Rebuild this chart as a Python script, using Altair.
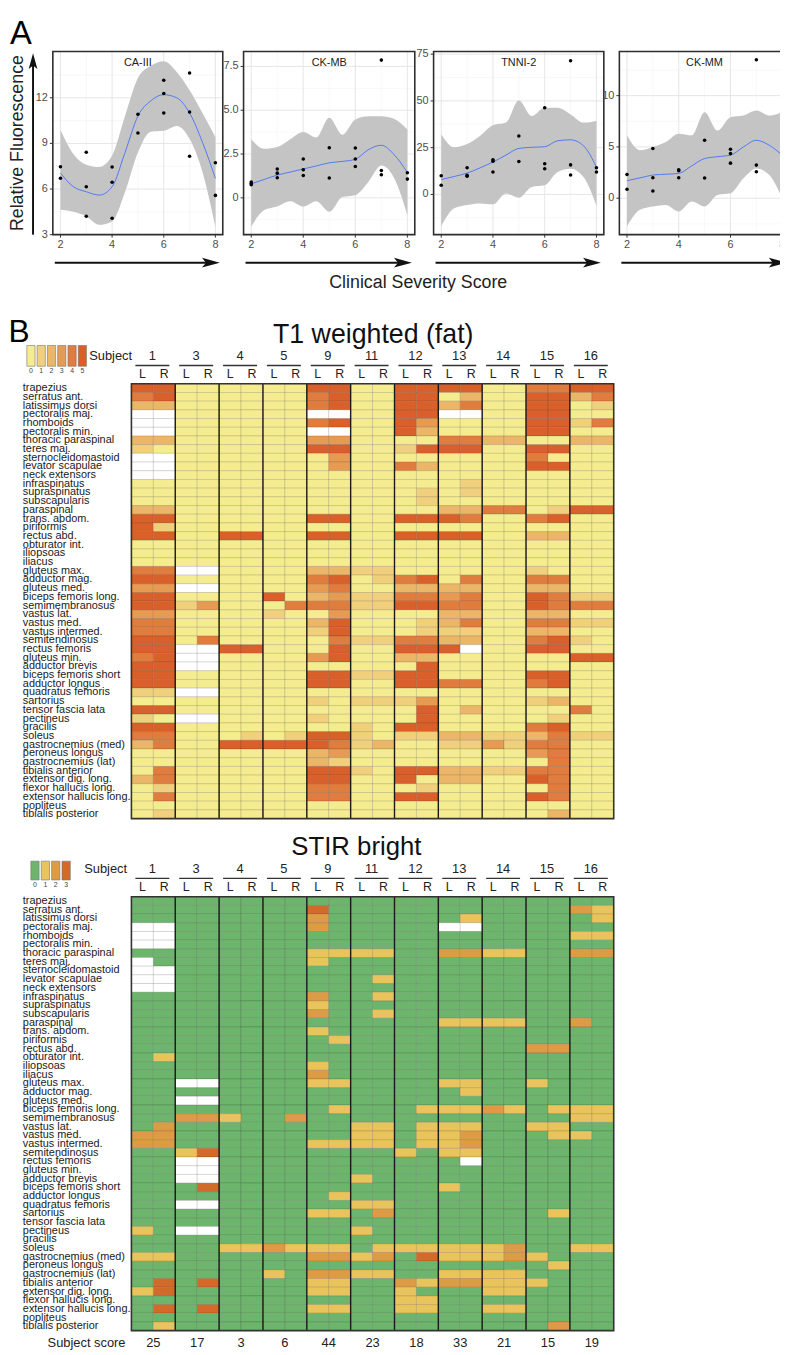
import altair as alt
import pandas as pd

FONT = "Liberation Sans"

# ---------------- Panel A: data ----------------
PANEL_NAMES = ["CA-III", "CK-MB", "TNNI-2", "CK-MM"]
X_DOMAIN = [1.705, 8.285]
X_MAJOR = [2, 4, 6, 8]
X_MINOR = [3, 5, 7]
FIT_X = [2, 2.5, 3, 3.5, 4, 4.5, 5, 5.5, 6, 6.5, 7, 7.5, 8]

CA3_X = [2, 2, 3, 3, 3, 4, 4, 4, 5, 5, 6, 6, 6, 7, 7, 7, 8, 8]
CA3_Y = [7.47, 6.71, 8.42, 6.15, 4.21, 7.45, 6.45, 4.08, 10.92, 9.68, 13.15, 12.28, 11.0, 13.63, 11.07, 8.16, 7.73, 5.58]
CA3_FIT = [7.05, 6.15, 5.82, 5.6, 6.15, 8.4, 10.8, 11.8, 12.2, 12.0, 11.0, 9.07, 6.7]
CA3_LO = [4.63, 4.5, 4.2, 3.65, 3.87, 5.8, 8.4, 9.77, 9.83, 10.15, 9.3, 7.1, 3.5]
CA3_HI = [9.9, 8.3, 7.6, 7.45, 8.2, 10.8, 13.3, 14.1, 14.4, 13.7, 12.5, 11.0, 9.4]
CA3_YDOM = [3, 15.04]
CA3_YMAJ = [3, 6, 9, 12]
CA3_YLAB = ["3", "6", "9", "12"]
CA3_YMIN = [4.5, 7.5, 10.5, 13.5]

CKMB_X = [2, 2, 2, 3, 3, 3, 4, 4, 4, 5, 5, 6, 6, 6, 7, 7, 7, 8, 8]
CKMB_Y = [0.9, 0.82, 0.75, 1.65, 1.41, 1.15, 2.22, 1.6, 1.28, 2.86, 1.13, 2.84, 2.22, 1.79, 7.86, 1.56, 1.32, 1.43, 1.07]
CKMB_FIT = [0.8, 1.05, 1.3, 1.47, 1.65, 1.82, 2.0, 2.08, 2.2, 2.75, 3.0, 2.45, 1.45]
CKMB_LO = [-1.63, -0.7, -0.5, -0.2, -0.5, -0.2, -0.8, 0.05, 0.15, 0.9, 1.84, 1.1, -1.0]
CKMB_HI = [3.35, 2.8, 2.9, 3.35, 3.76, 3.44, 4.57, 3.6, 4.47, 4.66, 4.66, 4.5, 3.9]
CKMB_YDOM = [-2.1, 8.35]
CKMB_YMAJ = [0, 2.5, 5, 7.5]
CKMB_YLAB = ["0", "2.5", "5.0", "7.5"]
CKMB_YMIN = [-1.25, 1.25, 3.75, 6.25]

TN_X = [2, 2, 3, 3, 3, 4, 4, 4, 5, 5, 6, 6, 6, 7, 7, 7, 8, 8]
TN_Y = [10.0, 4.9, 14.3, 10.2, 9.7, 18.5, 17.8, 12.0, 31.2, 17.6, 46.3, 16.4, 13.7, 71.5, 15.8, 10.4, 14.3, 12.0]
TN_FIT = [7.9, 9.6, 11.4, 14.2, 17.3, 21.0, 24.6, 25.2, 25.5, 28.7, 29.2, 26.0, 14.6]
TN_LO = [-17.0, -7.4, -5.6, -4.8, -5.3, 0.5, -1.8, 4.0, 4.9, 12.0, 13.7, 9.3, -6.0]
TN_HI = [32.2, 25.2, 26.9, 31.3, 37.0, 38.4, 50.2, 41.9, 46.3, 46.3, 42.8, 38.4, 39.3]
TN_YDOM = [-21.5, 76.4]
TN_YMAJ = [0, 25, 50, 75]
TN_YLAB = ["0", "25", "50", "75"]
TN_YMIN = [-12.5, 12.5, 37.5, 62.5]

CKMM_X = [2, 2, 3, 3, 3, 4, 4, 4, 5, 5, 6, 6, 6, 7, 7, 7, 8, 8]
CKMM_Y = [2.32, 0.87, 4.84, 2.0, 0.71, 2.77, 2.68, 2.0, 5.65, 1.97, 4.77, 4.35, 3.42, 13.5, 3.23, 2.58, 5.1, 2.0]
CKMM_FIT = [1.71, 1.98, 2.26, 2.34, 2.42, 3.15, 3.87, 4.05, 4.2, 5.0, 5.65, 5.16, 4.2]
CKMM_LO = [-2.74, -1.13, -0.8, -0.65, -1.29, -0.32, -0.8, 0.32, 0.48, 1.94, 2.9, 2.26, 0.0]
CKMM_HI = [6.13, 4.68, 5.0, 5.48, 6.29, 6.13, 8.39, 6.6, 7.9, 8.06, 8.55, 8.06, 8.4]
CKMM_YDOM = [-3.55, 14.3]
CKMM_YMAJ = [0, 5, 10]
CKMM_YLAB = ["0", "5", "10"]
CKMM_YMIN = [-2.5, 2.5, 7.5, 12.5]

# ---------------- Panel B: data ----------------
SUBJECTS = ["1", "3", "4", "5", "9", "11", "12", "13", "14", "15", "16"]
SIDES = ["L", "R"]
SUBJECT_SCORES = ["25", "17", "3", "6", "44", "23", "18", "33", "21", "15", "19"]
MUSCLES = [
    "trapezius", "serratus ant.", "latissimus dorsi", "pectoralis maj.", "rhomboids",
    "pectoralis min.", "thoracic paraspinal", "teres maj.", "sternocleidomastoid",
    "levator scapulae", "neck extensors", "infraspinatus", "supraspinatus", "subscapularis",
    "paraspinal", "trans. abdom.", "piriformis", "rectus abd.", "obturator int.", "iliopsoas",
    "iliacus", "gluteus max.", "adductor mag.", "gluteus med.", "biceps femoris long.",
    "semimembranosus", "vastus lat.", "vastus med.", "vastus intermed.", "semitendinosus",
    "rectus femoris", "gluteus min.", "adductor brevis", "biceps femoris short",
    "adductor longus", "quadratus femoris", "sartorius", "tensor fascia lata", "pectineus",
    "gracilis", "soleus", "gastrocnemius (med)", "peroneus longus", "gastrocnemius (lat)",
    "tibialis anterior", "extensor dig. long.", "flexor hallucis long.",
    "extensor hallucis long.", "popliteus", "tibialis posterior",
]
T1_LEVELS = ["0", "1", "2", "3", "4", "5"]
STIR_LEVELS = ["0", "1", "2", "3"]

# one string per muscle, two characters (L,R) per subject; "." = not scored
T1_ROWS = [
    "55 00 00 00 55 00 55 55 00 44 55",
    "45 00 00 00 45 00 55 02 00 55 24",
    "22 00 00 00 45 00 55 24 00 55 01",
    ".. 00 00 00 .. 00 55 .. 00 55 00",
    ".. 00 00 00 45 00 53 00 00 55 14",
    ".. 00 00 00 .. 00 52 00 00 55 00",
    "22 00 00 00 33 00 00 44 22 00 22",
    "10 00 00 00 55 00 15 55 00 55 00",
    ".. 00 00 00 03 00 00 00 00 40 00",
    ".. 00 00 00 03 00 42 00 00 55 00",
    ".. 00 00 00 00 00 00 00 00 00 00",
    "00 00 00 00 00 00 00 01 00 00 00",
    "00 00 00 00 00 00 01 01 00 00 00",
    "00 00 00 00 00 00 01 00 00 00 00",
    "22 00 00 00 00 00 00 22 44 01 55",
    "55 00 00 00 55 00 55 54 00 45 00",
    "51 00 00 00 00 00 00 00 00 00 00",
    "55 00 55 00 55 00 55 55 00 22 00",
    "00 00 00 00 00 00 00 00 00 00 00",
    "00 00 00 00 00 00 00 00 00 00 00",
    "00 00 00 00 00 00 00 00 00 00 00",
    "44 .. 00 00 22 11 00 00 00 10 00",
    "55 00 00 00 45 01 45 04 00 44 00",
    "33 .. 00 00 34 00 22 22 00 22 00",
    "55 00 00 50 23 11 44 34 00 54 11",
    "55 13 00 04 44 11 55 44 00 54 44",
    "33 00 00 10 03 00 00 22 00 22 00",
    "44 00 00 00 25 00 01 24 00 44 11",
    "44 00 00 00 15 00 01 11 00 22 00",
    "55 04 00 00 04 11 44 22 00 45 10",
    "55 .. 55 00 05 00 55 5. 00 55 00",
    "45 .. 00 00 35 00 22 00 00 00 55",
    "55 .. 00 00 00 00 05 00 00 00 00",
    "55 00 00 00 55 11 55 00 00 55 00",
    "55 00 00 00 55 00 55 44 00 45 00",
    "11 .. 00 00 00 00 00 00 00 00 00",
    "00 00 00 00 10 11 13 00 00 12 00",
    "55 00 00 00 00 00 05 02 00 00 40",
    "10 .. 00 00 10 00 05 00 00 01 00",
    "55 00 00 00 00 10 55 00 00 45 00",
    "44 00 01 01 55 10 11 22 11 24 11",
    "24 00 55 55 54 12 00 11 31 44 00",
    "00 00 00 00 23 00 00 00 00 34 00",
    "00 00 00 00 21 00 00 00 00 04 00",
    "04 00 00 00 55 10 55 22 11 44 00",
    "24 00 00 00 55 00 50 22 00 54 00",
    "01 00 00 00 44 00 01 00 00 04 00",
    "04 00 00 00 44 00 55 00 00 54 00",
    "00 00 00 00 00 00 00 00 00 00 00",
    "01 00 00 00 00 00 00 00 00 02 00",
]

STIR_ROWS = [
    "00 00 00 00 00 00 00 00 00 00 00",
    "00 00 00 00 30 00 00 00 00 00 21",
    "00 00 00 00 20 00 00 01 00 00 01",
    ".. 00 00 00 20 00 00 .. 00 00 00",
    ".. 00 00 00 00 00 00 00 00 00 11",
    ".. 00 00 00 00 00 00 00 00 00 00",
    "00 00 00 00 11 11 00 22 11 00 22",
    ".0 00 00 00 10 00 00 00 00 00 00",
    ".. 00 00 00 00 00 00 00 00 00 00",
    ".. 00 00 00 00 01 00 00 00 00 00",
    ".. 00 00 00 00 00 00 00 00 00 00",
    "00 00 00 00 20 01 00 00 00 00 00",
    "00 00 00 00 10 00 00 00 00 00 00",
    "00 00 00 00 20 01 00 00 00 00 00",
    "00 00 00 00 00 00 00 11 11 00 20",
    "00 00 00 00 10 00 00 00 00 00 00",
    "00 00 00 00 01 00 00 00 00 00 00",
    "00 00 00 00 00 00 00 00 00 22 00",
    "01 00 00 00 00 00 00 00 00 00 00",
    "00 00 00 00 10 00 00 00 00 00 00",
    "00 00 00 00 20 00 00 00 00 00 00",
    "00 .. 00 00 11 00 00 11 00 10 00",
    "00 00 00 00 00 00 00 01 00 00 00",
    "00 .. 00 00 00 00 00 00 00 00 00",
    "00 00 00 00 01 00 01 11 21 01 11",
    "00 22 10 02 00 00 00 00 00 00 11",
    "02 00 00 00 00 11 01 11 00 11 00",
    "22 00 00 00 00 11 01 12 00 01 10",
    "22 00 00 00 11 11 01 12 00 00 00",
    "00 13 00 00 00 00 10 11 00 00 00",
    "00 .. 00 00 00 00 00 0. 00 00 00",
    "00 .. 00 00 00 00 00 00 00 00 00",
    "00 .. 00 00 00 10 00 00 00 00 00",
    "00 03 00 00 00 00 00 10 00 00 00",
    "00 00 00 00 01 00 00 00 00 00 00",
    "00 .. 00 00 00 11 00 00 00 00 00",
    "00 00 00 00 11 02 00 00 00 01 00",
    "00 00 00 00 00 00 00 00 00 00 00",
    "10 .. 00 00 00 10 00 00 00 00 00",
    "00 00 00 00 00 00 00 00 00 00 00",
    "00 00 11 21 11 01 11 11 12 00 11",
    "11 00 00 00 22 12 03 11 12 10 00",
    "00 00 00 00 00 00 00 00 00 01 00",
    "00 00 00 10 22 11 00 11 11 00 00",
    "03 03 00 00 11 00 21 22 11 10 00",
    "13 00 00 00 11 00 10 00 11 00 00",
    "00 00 00 00 00 00 11 00 00 00 00",
    "03 03 00 00 11 00 11 00 11 00 00",
    "00 00 00 00 00 00 00 00 00 00 00",
    "01 00 00 00 00 00 00 00 00 02 00",
]

# ---------------- styles / layout ----------------
T1_COLORS = ["#F5EC90", "#F0D07D", "#EBB667", "#E69A52", "#E07C3D", "#D9602A"]
STIR_COLORS = ["#6DB46C", "#E9C35B", "#DE9B46", "#D26B2A"]
NA_COLOR = "#FFFFFF"

PANEL_XR = [[45.3, 217.0], [238.0, 411.0], [430.0, 602.0], [617.7, 789.7]]
PANEL_YR = [222.0, 37.0]
HM_XR = [124.7, 612.0]
T1_YR = [372.7, 812.0]
STIR_YR = [891.0, 1329.3]
COLW = (HM_XR[1] - HM_XR[0]) / 22.0
ARROW_R = "M-1,-0.55L1,0L-1,0.55L-0.55,0Z"
ARROW_U = "M-0.55,1L0,-1L0.55,1L0,0.55Z"

ONE = pd.DataFrame({"k": [0]})
COLS = [f"{s}{sd}" for s in SUBJECTS for sd in SIDES]


def panel(i, name, px, py, fit, lo, hi, ydom, ymaj, ylab, ymin):
    clip = i == 3
    xs = alt.Scale(domain=X_DOMAIN, range=PANEL_XR[i], nice=False, zero=False)
    ys = alt.Scale(domain=ydom, range=PANEL_YR, nice=False, zero=False)

    def X(f):
        return alt.X(f, type="quantitative", scale=xs, axis=None)

    def Y(f):
        return alt.Y(f, type="quantitative", scale=ys, axis=None)

    x0, x1 = X_DOMAIN
    y0, y1 = ydom
    xpx = (x1 - x0) / (PANEL_XR[i][1] - PANEL_XR[i][0])   # data units per pixel
    ypx = (y1 - y0) / (PANEL_YR[0] - PANEL_YR[1])
    pts = pd.DataFrame({"x": px, "y": py})
    fitdf = pd.DataFrame({"x": FIT_X, "fit": fit, "lo": lo, "hi": hi})
    xg_min = pd.DataFrame({"v": X_MINOR, "a": y0, "b": y1})
    yg_min = pd.DataFrame({"v": ymin, "a": x0, "b": x1})
    xg = pd.DataFrame({"v": X_MAJOR, "lab": [str(v) for v in X_MAJOR], "a": y0, "b": y1,
                       "t": y0 - 3 * ypx})
    yg = pd.DataFrame({"v": ymaj, "lab": ylab, "a": x0, "b": x1, "t": x0 - 3 * xpx})
    fr = pd.DataFrame({"x0": [x0], "x1": [x1], "y0": [y0], "y1": [y1],
                       "xm": [(x0 + x1) / 2], "name": [name],
                       "xa": [x0 + 2 * xpx], "xb": [x1 - 12 * xpx], "xh": [x1 - 12 * xpx]})
    return [
        alt.Chart(xg_min).mark_rule(color="#F3F3F3", strokeWidth=0.6, clip=clip).encode(
            x=X("v"), y=Y("a"), y2="b"),
        alt.Chart(yg_min).mark_rule(color="#F3F3F3", strokeWidth=0.6, clip=clip).encode(
            y=Y("v"), x=X("a"), x2="b"),
        alt.Chart(xg).mark_rule(color="#E3E3E3", strokeWidth=0.9, clip=clip).encode(
            x=X("v"), y=Y("a"), y2="b"),
        alt.Chart(yg).mark_rule(color="#E3E3E3", strokeWidth=0.9, clip=clip).encode(
            y=Y("v"), x=X("a"), x2="b"),
        alt.Chart(fitdf).mark_area(color="#C4C4C4", interpolate="monotone", clip=clip).encode(
            x=X("x"), y=Y("lo"), y2="hi"),
        alt.Chart(fitdf).mark_line(color="#3366FF", strokeWidth=0.8, interpolate="monotone",
                                   clip=clip).encode(x=X("x"), y=Y("fit")),
        alt.Chart(pts).mark_circle(color="#000000", size=13, opacity=1, clip=clip).encode(
            x=X("x"), y=Y("y")),
        alt.Chart(fr).mark_rect(fillOpacity=0, stroke="#2E2E2E", strokeWidth=1.6, clip=clip).encode(
            x=X("x0"), x2="x1", y=Y("y0"), y2="y1"),
        alt.Chart(yg).mark_rule(color="#333333", strokeWidth=1, clip=clip).encode(
            y=Y("v"), x=X("a"), x2="t"),
        alt.Chart(xg).mark_rule(color="#333333", strokeWidth=1, clip=clip).encode(
            x=X("v"), y=Y("a"), y2="t"),
        alt.Chart(yg).mark_text(align="right", baseline="middle", dx=-5, fontSize=11,
                                color="#4D4D4D", clip=clip).encode(
            x=X("a"), y=Y("v"), text="lab:N"),
        alt.Chart(xg).mark_text(align="center", baseline="top", dy=4, fontSize=11,
                                color="#4D4D4D", clip=clip).encode(
            x=X("v"), y=Y("a"), text="lab:N"),
        alt.Chart(fr).mark_text(align="center", baseline="middle", dy=12, fontSize=11,
                                color="#222222", clip=clip).encode(
            x=X("xm"), y=Y("y1"), text="name:N"),
        alt.Chart(fr).mark_rule(color="#111111", strokeWidth=2, clip=clip).encode(
            x=X("xa"), x2="xb", y=alt.value(250.3)),
        alt.Chart(fr).mark_point(shape=ARROW_R, size=324, filled=True, color="#111111",
                                 opacity=1, clip=clip).encode(
            x=X("xh"), y=alt.value(250.3)),
    ]


def cells_df(rows):
    recs = []
    for m, row in zip(MUSCLES, rows):
        row = row.replace(" ", "")
        for c, ch in zip(COLS, row):
            recs.append({"col": c, "muscle": m, "level": "NA" if ch == "." else ch})
    return pd.DataFrame(recs)


def heatmap(rows, levels, colors, yr, title, title_x, title_y, title_size, subj_x, scores=None):
    xs = alt.Scale(domain=COLS, range=HM_XR, paddingInner=0, paddingOuter=0)
    ys = alt.Scale(domain=MUSCLES, range=yr, paddingInner=0, paddingOuter=0)
    cs = alt.Scale(domain=["NA"] + levels, range=[NA_COLOR] + colors)
    XC = alt.X("col:N", scale=xs, axis=None)
    YM = alt.Y("muscle:N", scale=ys, axis=None)
    half = COLW / 2
    subj = pd.DataFrame({"col": [f"{s}L" for s in SUBJECTS],
                         "colR": [f"{s}R" for s in SUBJECTS], "subj": SUBJECTS})
    seps = pd.DataFrame({"col": [f"{s}L" for s in SUBJECTS[1:]]})
    sides = pd.DataFrame({"col": COLS, "side": [c[-1] for c in COLS]})
    top = yr[0]
    out = [
        alt.Chart(cells_df(rows)).mark_rect(stroke="#000000", strokeOpacity=0.2, strokeWidth=0.6).encode(
            x=XC, y=YM, color=alt.Color("level:N", scale=cs, legend=None)),
        alt.Chart(seps).mark_rule(color="#1A1A1A", strokeWidth=1.4, xOffset=-half).encode(
            x=XC, y=alt.value(yr[0]), y2=alt.value(yr[1])),
        alt.Chart(ONE).mark_rect(fillOpacity=0, stroke="#333333", strokeWidth=1.6).encode(
            x=alt.value(HM_XR[0]), x2=alt.value(HM_XR[1]), y=alt.value(yr[0]), y2=alt.value(yr[1])),
        alt.Chart(pd.DataFrame({"muscle": MUSCLES})).mark_text(
            align="left", baseline="middle", fontSize=11, color="#1A1A1A").encode(
            x=alt.value(15), y=YM, text="muscle:N"),
        alt.Chart(subj).mark_text(align="center", baseline="middle", fontSize=13, dx=half - 1,
                                  color="#222222").encode(
            x=XC, y=alt.value(top - 28.5), text="subj:N"),
        alt.Chart(subj).mark_rule(color="#333333", strokeWidth=1.3, xOffset=-half + 4,
                                  x2Offset=half - 6).encode(
            x=XC, x2=alt.X2("colR:N"), y=alt.value(top - 18.5)),
        alt.Chart(sides).mark_text(align="center", baseline="middle", fontSize=12.5,
                                   color="#222222").encode(
            x=XC, y=alt.value(top - 9.5), text="side:N"),
        alt.Chart(ONE).mark_text(align="center", baseline="alphabetic", fontSize=title_size,
                                 color="#111111").encode(
            x=alt.value(title_x), y=alt.value(title_y), text=alt.value(title)),
        alt.Chart(ONE).mark_text(align="left", baseline="middle", fontSize=13,
                                 color="#222222").encode(
            x=alt.value(subj_x), y=alt.value(top - 28.5), text=alt.value("Subject")),
    ]
    if scores is not None:
        sc = pd.DataFrame({"col": [f"{s}L" for s in SUBJECTS], "score": scores})
        out.append(alt.Chart(sc).mark_text(align="center", baseline="middle", fontSize=13,
                                           dx=half, color="#222222").encode(
            x=XC, y=alt.value(yr[1] + 12.7), text="score:N"))
        out.append(alt.Chart(ONE).mark_text(align="left", baseline="middle", fontSize=13,
                                            color="#222222").encode(
            x=alt.value(40), y=alt.value(yr[1] + 12.7), text=alt.value("Subject score")))
    return out


def legend(levels, colors, xr, yr, label_y):
    xs = alt.Scale(domain=levels, range=xr, paddingInner=0.2, paddingOuter=0.1)
    cs = alt.Scale(domain=levels, range=colors)
    df = pd.DataFrame({"lvl": levels})
    return [
        alt.Chart(df).mark_rect(stroke="#777777", strokeWidth=0.6).encode(
            x=alt.X("lvl:N", scale=xs, axis=None), y=alt.value(yr[0]), y2=alt.value(yr[1]),
            color=alt.Color("lvl:N", scale=cs, legend=None)),
        alt.Chart(df).mark_text(align="center", baseline="middle", fontSize=7, color="#444444").encode(
            x=alt.X("lvl:N", scale=xs, axis=None), y=alt.value(label_y), text="lvl:N"),
    ]


annot = [
    alt.Chart(ONE).mark_text(align="left", baseline="alphabetic", fontSize=33, color="#000000").encode(
        x=alt.value(2), y=alt.value(29), text=alt.value("A")),
    alt.Chart(ONE).mark_text(align="left", baseline="alphabetic", fontSize=32, color="#000000").encode(
        x=alt.value(0.5), y=alt.value(330), text=alt.value("B")),
    alt.Chart(ONE).mark_text(align="center", baseline="middle", angle=270, fontSize=18,
                             color="#222222").encode(
        x=alt.value(10), y=alt.value(129.5), text=alt.value("Relative Fluorescence")),
    alt.Chart(ONE).mark_text(align="center", baseline="alphabetic", fontSize=18,
                             color="#222222").encode(
        x=alt.value(414.5), y=alt.value(276), text=alt.value("Clinical Severity Score")),
    alt.Chart(ONE).mark_rule(color="#111111", strokeWidth=2).encode(
        x=alt.value(25.3), y=alt.value(222), y2=alt.value(50)),
    alt.Chart(ONE).mark_point(shape=ARROW_U, size=256, filled=True, color="#111111",
                              opacity=1).encode(x=alt.value(25.3), y=alt.value(46.7)),
]

layers = list(annot)
layers += panel(0, PANEL_NAMES[0], CA3_X, CA3_Y, CA3_FIT, CA3_LO, CA3_HI, CA3_YDOM, CA3_YMAJ, CA3_YLAB, CA3_YMIN)
layers += panel(1, PANEL_NAMES[1], CKMB_X, CKMB_Y, CKMB_FIT, CKMB_LO, CKMB_HI, CKMB_YDOM, CKMB_YMAJ, CKMB_YLAB, CKMB_YMIN)
layers += panel(2, PANEL_NAMES[2], TN_X, TN_Y, TN_FIT, TN_LO, TN_HI, TN_YDOM, TN_YMAJ, TN_YLAB, TN_YMIN)
layers += panel(3, PANEL_NAMES[3], CKMM_X, CKMM_Y, CKMM_FIT, CKMM_LO, CKMM_HI, CKMM_YDOM, CKMM_YMAJ, CKMM_YLAB, CKMM_YMIN)
layers += legend(T1_LEVELS, T1_COLORS, [18.0, 80.3], [334.0, 355.0], 359.5)
layers += heatmap(T1_ROWS, T1_LEVELS, T1_COLORS, T1_YR, "T1 weighted (fat)", 369, 331, 27, 82)
layers += legend(STIR_LEVELS, STIR_COLORS, [22.0, 64.0], [855.0, 874.0], 879.5)
layers += heatmap(STIR_ROWS, STIR_LEVELS, STIR_COLORS, STIR_YR, "STIR bright", 352, 849, 26, 77,
                  scores=SUBJECT_SCORES)

chart = (
    alt.layer(*layers)
    .resolve_scale(x="independent", y="independent", color="independent")
    .properties(width=780, height=1347, padding=0)
    .configure(font=FONT)
    .configure_view(strokeWidth=0)
)

chart.save("out.html", embed_options={"renderer": "svg", "actions": False})
